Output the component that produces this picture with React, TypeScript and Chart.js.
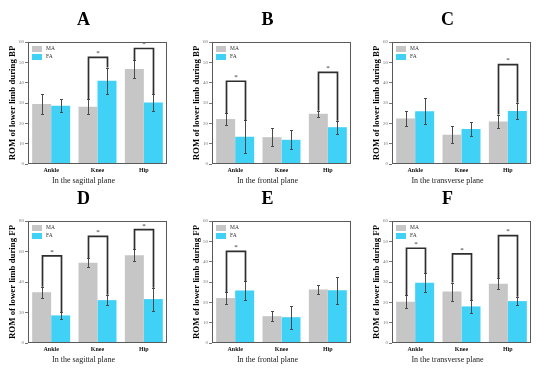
import React, { useEffect, useRef } from 'react';
import { Chart, registerables } from 'chart.js';

Chart.register(...registerables);

// ---------- data ----------
const categories = ['Ankle', 'Knee', 'Hip'];
const seriesNames = ['MA', 'FA'];
const panelLetters = ['A', 'B', 'C', 'D', 'E', 'F'];
const planeTitles = ['In the sagittal plane', 'In the frontal plane', 'In the transverse plane'];
const yTitleBP = 'ROM of lower limb during BP';
const yTitleFP = 'ROM of lower limb during FP';

// A – sagittal, BP
const maA = [29.5, 28.2, 46.7];
const maErrA = [4.9, 3.8, 4.3];
const faA = [28.7, 41.0, 30.2];
const faErrA = [3.2, 6.4, 4.2];
const sigA = [null, 52.4, 56.8];

// B – frontal, BP
const maB = [22.1, 13.2, 24.7];
const maErrB = [2.8, 4.4, 1.5];
const faB = [13.4, 11.9, 18.1];
const faErrB = [8.0, 4.7, 3.2];
const sigB = [40.7, null, 45.1];

// C – transverse, BP
const maC = [22.4, 14.4, 20.9];
const maErrC = [3.7, 4.1, 3.4];
const faC = [26.0, 17.2, 26.1];
const faErrC = [6.3, 3.5, 4.0];
const sigC = [null, null, 48.9];

// D – sagittal, FP
const maD = [33.3, 52.7, 57.5];
const maErrD = [3.6, 3.0, 4.0];
const faD = [18.1, 28.1, 28.8];
const faErrD = [2.3, 3.5, 7.5];
const sigD = [57.1, 69.9, 74.3];

// E – frontal, FP
const maE = [22.1, 13.2, 26.3];
const maErrE = [2.9, 2.6, 2.4];
const faE = [25.8, 12.7, 26.0];
const faErrE = [4.6, 5.7, 6.6];
const sigE = [45.1, null, null];

// F – transverse, FP
const maF = [20.3, 25.3, 29.2];
const maErrF = [3.2, 4.4, 2.8];
const faF = [29.6, 18.0, 20.6];
const faErrF = [4.7, 3.0, 2.1];
const sigF = [46.6, 43.8, 52.8];

const yMaxes = [60, 60, 60, 80, 60, 60];
const ySteps = [10, 10, 10, 20, 10, 10];

// ---------- style ----------
const SERIF = '"Liberation Serif", "Times New Roman", Times, serif';
const GREY = '#c6c6c6';
const CYAN = '#40d1f7';
const CANVAS_W = 184;
const CANVAS_H = 186;

type PanelProps = {
  letter: string;
  xTitle: string;
  yTitle: string;
  ma: number[];
  maErr: number[];
  fa: number[];
  faErr: number[];
  sig: (number | null)[];
  yMax: number;
  yStep: number;
  left: number;
  top: number;
};

function Panel(p: PanelProps) {
  const ref = useRef<HTMLCanvasElement>(null);

  useEffect(() => {
    if (!ref.current) return;
    const overlay = {
      id: 'overlay',
      afterDatasetsDraw(chart: any) {
        const ctx = chart.ctx as CanvasRenderingContext2D;
        const { left, right, top, bottom } = chart.chartArea;
        const ys = chart.scales.y;
        const metaMA = chart.getDatasetMeta(0);
        const metaFA = chart.getDatasetMeta(1);
        ctx.save();

        // error bars
        ctx.strokeStyle = '#4a4a4a';
        ctx.lineWidth = 1;
        const drawErr = (meta: any, vals: number[], errs: number[]) => {
          meta.data.forEach((bar: any, i: number) => {
            const x = Math.round(bar.x) + 0.5;
            const y1 = Math.round(ys.getPixelForValue(vals[i] + errs[i])) + 0.5;
            const y2 = Math.round(ys.getPixelForValue(vals[i] - errs[i])) + 0.5;
            ctx.beginPath();
            ctx.moveTo(x, y1);
            ctx.lineTo(x, y2);
            ctx.moveTo(x - 1.5, y1);
            ctx.lineTo(x + 1.5, y1);
            ctx.moveTo(x - 1.5, y2);
            ctx.lineTo(x + 1.5, y2);
            ctx.stroke();
          });
        };
        drawErr(metaMA, p.ma, p.maErr);
        drawErr(metaFA, p.fa, p.faErr);

        // significance brackets
        ctx.strokeStyle = '#2e2e2e';
        ctx.lineWidth = 1.7;
        ctx.fillStyle = '#222';
        ctx.font = `7px ${SERIF}`;
        ctx.textAlign = 'center';
        ctx.textBaseline = 'middle';
        p.sig.forEach((h, i) => {
          if (h == null) return;
          const x1 = Math.round(metaMA.data[i].x) + 0.5;
          const x2 = Math.round(metaFA.data[i].x) + 0.5;
          const yh = ys.getPixelForValue(h);
          const yl = ys.getPixelForValue(p.ma[i] + p.maErr[i]);
          const yr = ys.getPixelForValue(p.fa[i] + p.faErr[i]);
          ctx.beginPath();
          ctx.moveTo(x1, yl);
          ctx.lineTo(x1, yh);
          ctx.lineTo(x2, yh);
          ctx.lineTo(x2, yr);
          ctx.stroke();
          ctx.fillText('*', (x1 + x2) / 2, yh - 4);
        });

        // plot frame
        ctx.strokeStyle = '#5a5a5a';
        ctx.lineWidth = 1;
        ctx.strokeRect(Math.round(left) + 0.5, Math.round(top) + 0.5, Math.round(right - left) - 1, Math.round(bottom - top) - 1);

        // legend inside the plot
        const lx = left + 4;
        const ly = top + 4;
        ctx.fillStyle = GREY;
        ctx.fillRect(lx, ly, 10, 6);
        ctx.fillStyle = CYAN;
        ctx.fillRect(lx, ly + 8, 10, 6);
        ctx.fillStyle = '#333';
        ctx.font = `5.5px ${SERIF}`;
        ctx.textAlign = 'left';
        ctx.textBaseline = 'middle';
        ctx.fillText(chart.data.datasets[0].label, lx + 14, ly + 3);
        ctx.fillText(chart.data.datasets[1].label, lx + 14, ly + 11);
        ctx.restore();
      },
    };

    const chart = new Chart(ref.current, {
      type: 'bar',
      data: {
        labels: categories,
        datasets: [
          { label: seriesNames[0], data: p.ma, backgroundColor: GREY, borderWidth: 0, categoryPercentage: 0.82, barPercentage: 1 },
          { label: seriesNames[1], data: p.fa, backgroundColor: CYAN, borderWidth: 0, categoryPercentage: 0.82, barPercentage: 1 },
        ],
      },
      options: {
        responsive: false,
        animation: false,
        devicePixelRatio: 1,
        layout: { padding: { left: 0, right: 17, top: 0, bottom: 0 } },
        plugins: {
          legend: { display: false },
          tooltip: { enabled: false },
          title: {
            display: true,
            text: p.letter,
            color: '#000',
            font: { family: SERIF, size: 18, weight: 'bold', lineHeight: 1.2 },
            padding: { top: 9.2, bottom: 11.2 },
          },
          subtitle: {
            display: true,
            position: 'bottom',
            text: p.xTitle,
            color: '#222',
            font: { family: SERIF, size: 8, lineHeight: 1.2 },
            padding: 0,
          },
        },
        scales: {
          x: {
            grid: { drawOnChartArea: false, drawTicks: false, color: 'rgba(0,0,0,0)' },
            border: { display: false },
            ticks: { display: true, autoSkip: false, color: '#111', font: { family: SERIF, size: 6, weight: 'bold', lineHeight: 1.2 }, padding: 3, maxRotation: 0, minRotation: 0 },
            afterFit: (s: any) => { s.height = 12.4; },
          },
          y: {
            min: 0,
            max: p.yMax,
            ticks: { stepSize: p.yStep, color: '#777', font: { family: SERIF, size: 5 }, padding: 1 },
            grid: { drawOnChartArea: false, drawTicks: true, tickLength: 3, color: '#777' },
            border: { display: false },
            title: {
              display: true,
              text: p.yTitle,
              color: '#000',
              font: { family: SERIF, size: 8.8, weight: 'bold', lineHeight: 1.2 },
              padding: { top: 7.7, bottom: 0 },
            },
            afterFit: (s: any) => { s.width = 28; },
          },
        },
      } as any,
      plugins: [overlay],
    });
    return () => chart.destroy();
  }, []);

  return (
    <canvas
      ref={ref}
      width={CANVAS_W}
      height={CANVAS_H}
      style={{ position: 'absolute', left: p.left, top: p.top, width: CANVAS_W, height: CANVAS_H }}
    />
  );
}

export default function App() {
  const lefts = [0, 184, 364];
  const tops = [0, 179];
  const panels = [
    { ma: maA, maErr: maErrA, fa: faA, faErr: faErrA, sig: sigA },
    { ma: maB, maErr: maErrB, fa: faB, faErr: faErrB, sig: sigB },
    { ma: maC, maErr: maErrC, fa: faC, faErr: faErrC, sig: sigC },
    { ma: maD, maErr: maErrD, fa: faD, faErr: faErrD, sig: sigD },
    { ma: maE, maErr: maErrE, fa: faE, faErr: faErrE, sig: sigE },
    { ma: maF, maErr: maErrF, fa: faF, faErr: faErrF, sig: sigF },
  ];
  return (
    <div style={{ position: 'absolute', left: 0, top: 0, width: 550, height: 368, background: '#fff', overflow: 'hidden' }}>
      {panels.map((d, i) => (
        <Panel
          key={i}
          letter={panelLetters[i]}
          xTitle={planeTitles[i % 3]}
          yTitle={i < 3 ? yTitleBP : yTitleFP}
          ma={d.ma}
          maErr={d.maErr}
          fa={d.fa}
          faErr={d.faErr}
          sig={d.sig}
          yMax={yMaxes[i]}
          yStep={ySteps[i]}
          left={lefts[i % 3]}
          top={tops[Math.floor(i / 3)]}
        />
      ))}
    </div>
  );
}
